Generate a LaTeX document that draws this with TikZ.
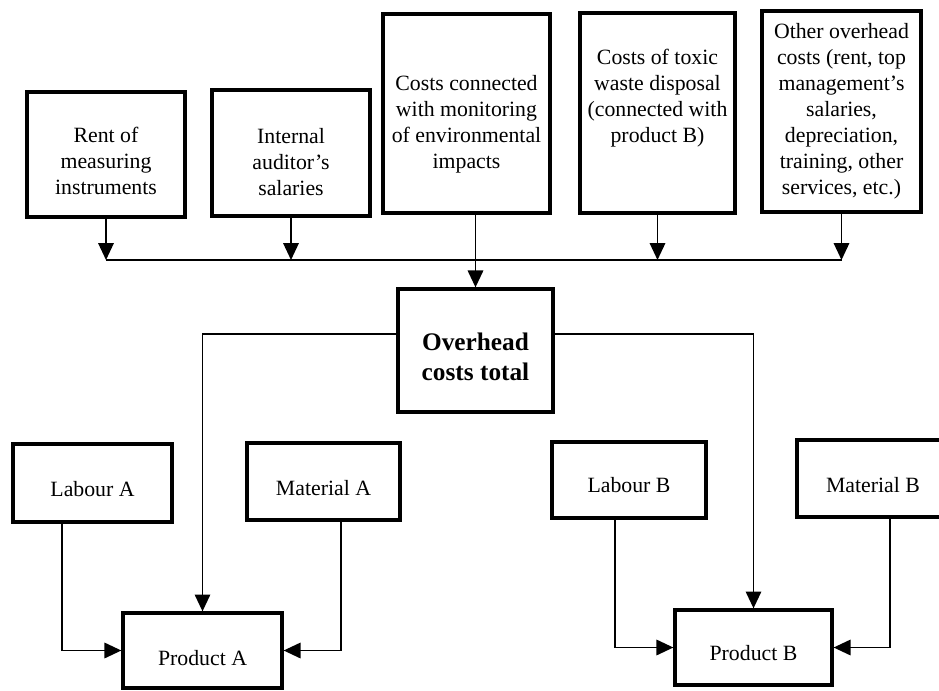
\documentclass[tikz,border=0pt]{standalone}
\usepackage{fontspec}
\setmainfont{Liberation Serif}
\usetikzlibrary{arrows.meta,calc}

% invisible strut that pushes the text a little lower in its box
\newcommand{\lowtext}[1]{\rule{0pt}{#1}}

\tikzset{
  costbox/.style={draw=black, line width=2.3pt, align=center, inner sep=2pt,
    font=\fontsize{15.5}{18.5}\selectfont},
  totalbox/.style={costbox, font=\fontsize{18}{21.5}\selectfont\bfseries},
  flow/.style={draw=black, line width=1.2pt, -{Triangle[length=12pt,width=11pt]}},
  bus/.style={draw=black, line width=1.2pt},
}

\begin{document}
\begin{tikzpicture}[x=0.025cm, y=-0.025cm]
  \useasboundingbox (0,0) rectangle (939,690);

	% cost items on top
	\node[costbox, minimum width=3.95cm, minimum height=3.125cm] (rent) at (106,154.5) {\lowtext{20pt}Rent of\\measuring\\instruments};
	\node[costbox, minimum width=3.95cm, minimum height=3.15cm] (audit) at (291,153) {\lowtext{23pt}Internal\\auditor's\\salaries};
	\node[costbox, minimum width=4.175cm, minimum height=4.975cm] (monit) at (466.5,113.5) {\lowtext{26pt}Costs connected\\with monitoring\\of environmental\\impacts};
	\node[costbox, minimum width=3.875cm, minimum height=5cm] (toxic) at (657.5,113) {Costs of toxic\\waste disposal\\(connected with\\product B)\\[6pt]\mbox{}};
	\node[costbox, minimum width=3.975cm, minimum height=5.025cm] (other) at (841.5,111.5) {Other overhead\\costs (rent, top\\management's\\salaries,\\depreciation,\\training, other\\services, etc.)};

	\node[totalbox, minimum width=3.875cm, minimum height=3.075cm] (total) at (475.5,350.5) {\lowtext{21pt}Overhead\\costs total};

	% product A
	\node[costbox, minimum width=3.975cm, minimum height=1.95cm] (labA) at (92.5,483) {\lowtext{19pt}Labour A};
	\node[costbox, minimum width=3.825cm, minimum height=1.925cm] (matA) at (323.5,481.5) {\lowtext{20pt}Material A};
	\node[costbox, minimum width=3.975cm, minimum height=1.875cm] (prodA) at (202.5,650.5) {\lowtext{21pt}Product A};

	% product B
	\node[costbox, minimum width=3.85cm, minimum height=1.9cm] (labB) at (629,480) {\lowtext{18pt}Labour B};
	\node[costbox, minimum width=3.8cm, minimum height=1.925cm] (matB) at (873,478.5) {\lowtext{20pt}Material B};
	\node[costbox, minimum width=3.925cm, minimum height=1.875cm] (prodB) at (753.5,647.5) {\lowtext{19pt}Product B};

	\coordinate (bus) at (0,260);

	\draw[bus] (rent.south |- bus) -- (other.south |- bus);
	\draw[flow] (rent.south) -- (rent.south |- bus);
	\draw[flow] (audit.south) -- (audit.south |- bus);
	\draw[flow] (toxic.south) -- (toxic.south |- bus);
	\draw[flow] (other.south) -- (other.south |- bus);
	\draw[flow] (monit.south -| total.north) -- (total.north);

	\draw[flow] ($(total.north west)!0.37!(total.south west)$) -| (prodA.north);
	\draw[flow] ($(total.north east)!0.37!(total.south east)$) -| (prodB.north);

	\draw[flow] ($(labA.south west)!0.31!(labA.south east)$) |- (prodA.west);
	\draw[flow] ($(matA.south west)!0.61!(matA.south east)$) |- (prodA.east);
	\draw[flow] ($(labB.south west)!0.41!(labB.south east)$) |- (prodB.west);
	\draw[flow] ($(matB.south west)!0.61!(matB.south east)$) |- (prodB.east);
\end{tikzpicture}
\end{document}
